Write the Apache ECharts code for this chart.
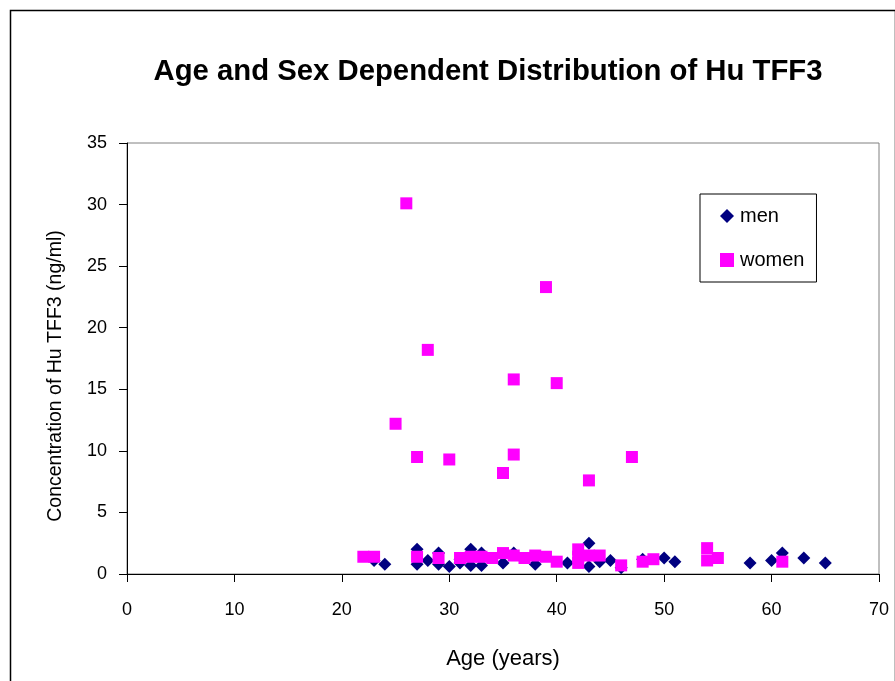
<!DOCTYPE html>
<html><head><meta charset="utf-8">
<script src="https://cdn.jsdelivr.net/npm/echarts@6/dist/echarts.min.js"></script>
<style>html,body{margin:0;padding:0;background:#fff}#c{width:895px;height:681px}</style>
</head><body><div id="c"></div>
<script>
const chartTitle = "Age and Sex Dependent Distribution of Hu TFF3";
const xAxisName = "Age (years)";
const yAxisName = "Concentration of Hu TFF3 (ng/ml)";
const seriesNames = ["men", "women"];
const menAge = [23,24,27,27,28,29,29,30,31,31,32,32,33,33,35,36,38,41,43,43,44,45,46,48,50,51,58,60,61,63,65];
const menConc = [1.1,0.8,2.0,0.8,1.1,1.7,0.8,0.6,1.2,0.9,2.0,0.7,1.7,0.7,0.9,1.7,0.8,0.9,2.5,0.6,1.0,1.1,0.5,1.2,1.3,1.0,0.9,1.1,1.7,1.3,0.9];
const womenAge = [22,23,25,26,27,27,28,29,30,31,32,33,34,35,35,36,36,36,37,38,39,39,40,40,42,42,42,43,43,44,46,47,48,49,54,54,55,61];
const womenConc = [1.4,1.4,12.2,30.1,9.5,1.4,18.2,1.3,9.3,1.3,1.4,1.4,1.3,8.2,1.7,15.8,9.7,1.5,1.3,1.5,23.3,1.4,15.5,1.0,2.0,1.4,0.9,7.6,1.5,1.5,0.7,9.5,1.0,1.2,2.1,1.1,1.3,1.0];

const FONT = "'Liberation Sans', Arial, sans-serif";
const chart = echarts.init(document.getElementById('c'));
chart.setOption({
  animation: false,
  backgroundColor: '#fff',
  title: { text: chartTitle, left: 483, top: 52, textAlign: 'center',
    textStyle: { fontFamily: FONT, fontWeight: 'bold', fontSize: 29.3, color: '#000' } },
  grid: { left: 127, right: 16, top: 143, bottom: 107, show: true, borderColor: '#808080', borderWidth: 1 },
  legend: {
    left: 700, top: 194, orient: 'vertical', itemGap: 24,
    padding: [12, 12, 12, 20],
    backgroundColor: '#fff', borderColor: '#000', borderWidth: 1,
    itemWidth: 14, itemHeight: 14,
    textStyle: { fontFamily: FONT, fontSize: 20, color: '#000', padding: [0, 0, 0, 1] },
    data: [{ name: seriesNames[0], icon: 'diamond' }, { name: seriesNames[1], icon: 'rect' }]
  },
  xAxis: {
    type: 'value', min: 0, max: 70, interval: 10,
    name: xAxisName, nameLocation: 'middle', nameGap: 74,
    nameTextStyle: { fontFamily: FONT, fontSize: 22, color: '#000' },
    axisLine: { lineStyle: { color: '#000', width: 1 } },
    axisTick: { show: true, inside: false, length: 8, lineStyle: { color: '#000' } },
    axisLabel: { fontFamily: FONT, fontSize: 18, color: '#000', margin: 27 },
    splitLine: { show: false }
  },
  yAxis: {
    type: 'value', min: 0, max: 35, interval: 5,
    axisLine: { show: true, lineStyle: { color: '#000', width: 1 } },
    axisTick: { show: true, inside: false, length: 8, lineStyle: { color: '#000' } },
    axisLabel: { fontFamily: FONT, fontSize: 18, color: '#000', margin: 20 },
    splitLine: { show: false }
  },
  graphic: [
    { type: 'rect', left: 8, top: 8, shape: { width: 885, height: 700 }, silent: true, z: -10,
      style: { fill: 'none', stroke: '#000', lineWidth: 1.5 } },
    { type: 'text', x: 56, y: 376, rotation: Math.PI / 2, z: 10,
      style: { text: yAxisName, fontFamily: FONT, fontSize: 19.5, fill: '#000', align: 'center', verticalAlign: 'middle' } }
  ],
  series: [
    { name: seriesNames[0], type: 'scatter', symbol: 'diamond', symbolSize: 13,
      itemStyle: { color: '#000080', opacity: 1 },
      data: menAge.map((a, i) => [a, menConc[i]]), z: 2 },
    { name: seriesNames[1], type: 'scatter', symbol: 'rect', symbolSize: 12,
      itemStyle: { color: '#FF00FF', opacity: 1 },
      data: womenAge.map((a, i) => [a, womenConc[i]]), z: 3 }
  ]
});
</script></body></html>
